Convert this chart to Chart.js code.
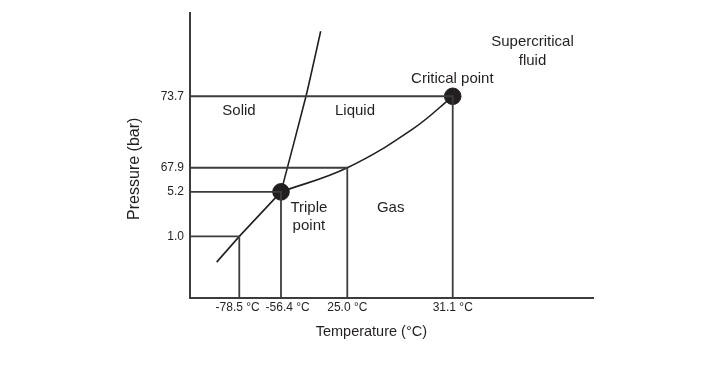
<!DOCTYPE html>
<html>
<head>
<meta charset="utf-8">
<script src="https://cdn.jsdelivr.net/npm/chart.js@4"></script>
<style>
  body { margin: 0; background: #fff; }
  canvas { display: block; }
</style>
</head>
<body>
<canvas id="phase" width="720" height="370"></canvas>
<script>
// the axes are schematic (not to scale), so ticks sit at 0-100 axis units
const tempLabels = ['-78.5 °C ', '    -56.4 °C', '25.0 °C', '31.1 °C'];
const tempAt = [12.23, 22.58, 39.03, 65.19];
const pressLabels = ['1.0', '5.2', '67.9', '73.7'];
const pressAt = [21.55, 37.19, 45.67, 70.8];

// phase boundaries
const sublimX = [6.62, 12.23, 22.58];
const sublimY = [12.51, 21.55, 37.19];
const meltX = [22.58, 28.78, 32.43];
const meltY = [37.19, 70.8, 93.64];
const vaporX = [22.58, 39.03, 55.41, 65.19];
const vaporY = [37.19, 45.67, 59.44, 70.8];

// triple point and critical point
const markX = [22.58, 65.19];
const markY = [37.19, 70.8];

const regionNames = ['Solid', 'Liquid', 'Triple\npoint', 'Gas', 'Critical point', 'Supercritical\nfluid'];
const regionX = [12.16, 40.94, 29.5, 49.8, 65.09, 84.99];
const regionY = [65.69, 65.83, 28.33, 31.63, 76.82, 86.62];

const ink = '#231f20';
const guideInk = '#3c3c3c';
const font = "'Liberation Sans', Arial, sans-serif";

function pts(xs, ys) {
  return xs.map((x, i) => ({ x: x, y: ys[i] }));
}

const guides = tempAt.map((t, i) => ({
  data: [{ x: 0, y: pressAt[i] }, { x: t, y: pressAt[i] }, { x: t, y: 0 }],
  borderColor: guideInk,
  borderWidth: 1.8,
  pointRadius: 0,
  showLine: true,
  tension: 0
}));

const curve = (xs, ys, tension) => ({
  data: pts(xs, ys),
  borderColor: ink,
  borderWidth: 1.6,
  pointRadius: 0,
  showLine: true,
  tension: tension
});

const regionText = {
  id: 'regionText',
  afterDatasetsDraw(chart) {
    const { ctx, scales } = chart;
    ctx.save();
    ctx.fillStyle = ink;
    ctx.font = `15px ${font}`;
    ctx.textAlign = 'center';
    ctx.textBaseline = 'middle';
    regionNames.forEach((name, i) => {
      const lines = name.split('\n');
      const cx = scales.x.getPixelForValue(regionX[i]);
      const cy = scales.y.getPixelForValue(regionY[i]);
      const lh = 18.5;
      lines.forEach((ln, j) => {
        ctx.fillText(ln, cx, cy + (j - (lines.length - 1) / 2) * lh);
      });
    });
    ctx.restore();
  }
};

Chart.defaults.font.family = font;
Chart.defaults.color = ink;

new Chart(document.getElementById('phase'), {
  type: 'scatter',
  data: {
    datasets: [
      ...guides,
      curve(sublimX, sublimY, 0),
      curve(meltX, meltY, 0.2),
      curve(vaporX, vaporY, 0.4),
      {
        data: pts(markX, markY),
        backgroundColor: ink,
        borderColor: ink,
        pointRadius: 8.3,
        showLine: false
      }
    ]
  },
  options: {
    responsive: false,
    animation: false,
    layout: { padding: { left: 120, top: 10, right: 127, bottom: 0 } },
    plugins: { legend: { display: false }, tooltip: { enabled: false } },
    scales: {
      x: {
        type: 'linear',
        min: 0,
        max: 100,
        afterFit: s => { s.height = 72.3; },
        afterBuildTicks: s => { s.ticks = tempAt.map(v => ({ value: v })); },
        ticks: {
          autoSkip: false,
          maxRotation: 0,
          padding: 3,
          font: { size: 12 },
          callback: (v, i) => tempLabels[i]
        },
        grid: { display: false, drawTicks: false },
        border: { color: guideInk, width: 2 },
        title: {
          display: true,
          text: 'Temperature (°C)          ',
          font: { size: 14.5 },
          padding: { top: 0, bottom: 29.3 }
        }
      },
      y: {
        type: 'linear',
        min: 0,
        max: 100,
        afterFit: s => { s.width = 70; },
        afterBuildTicks: s => { s.ticks = pressAt.map(v => ({ value: v })); },
        ticks: {
          autoSkip: false,
          padding: 6,
          font: { size: 12 },
          callback: (v, i) => pressLabels[i]
        },
        grid: { display: false, drawTicks: false },
        border: { color: guideInk, width: 2 },
        title: {
          display: true,
          text: 'Pressure (bar)      ',
          font: { size: 16 },
          padding: { top: 5.4, bottom: 0 }
        }
      }
    }
  },
  plugins: [regionText]
});
</script>
</body>
</html>
